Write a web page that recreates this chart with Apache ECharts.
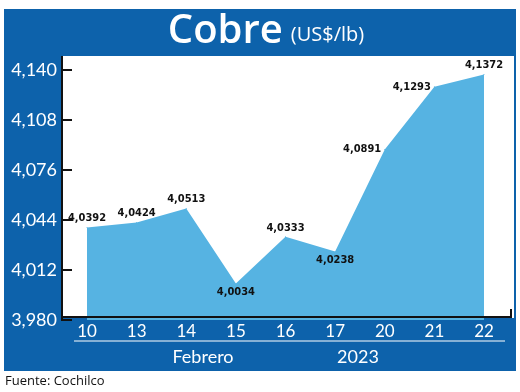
<!DOCTYPE html>
<html><head><meta charset="utf-8">
<script src="https://cdn.jsdelivr.net/npm/echarts@6/dist/echarts.min.js"></script>
<style>html,body{margin:0;padding:0;background:#fff}#c{width:520px;height:392px}</style>
</head><body><div id="c"></div>
<script>
const categories = ['10','13','14','15','16','17','20','21','22'];
const values = [4.0392, 4.0424, 4.0513, 4.0034, 4.0333, 4.0238, 4.0891, 4.1293, 4.1372];
const labelPositions = ['top','top','top','bottom','top','bottom','left','left','top'];
const yBase = 3.980, yTop = 4.140, yStep = 0.032;
const monthLabel = 'Febrero', yearLabel = '2023';
const titleMain = 'Cobre', titleUnit = '(US$/lb)', sourceText = 'Fuente: Cochilco';

const BLUE = '#0d62ab', FILL = '#56b3e2';
const NARROW = '"DejaVu Sans Condensed","Liberation Sans Narrow",sans-serif';
const scale = 1000;
const seriesData = values.map((v, i) => ({
  value: Math.round((v - yBase) * scale * 10) / 10,
  label: { position: labelPositions[i], distance: 3 }
}));

const chart = echarts.init(document.getElementById('c'), null, {renderer: 'canvas'});
chart.setOption({
  animation: false,
  grid: { left: 87, right: 36, top: 70, bottom: 72 },
  xAxis: {
    type: 'category', data: categories, boundaryGap: false,
    axisLine: { show: false }, axisTick: { show: false },
    axisLabel: { color: '#fff', fontSize: 17, fontFamily: 'Lato, "Open Sans", sans-serif', margin: 3 },
    z: 10
  },
  yAxis: {
    type: 'value', min: 0, max: Math.round((yTop - yBase) * scale), interval: Math.round(yStep * scale),
    offset: 25,
    axisLine: { show: false },
    axisTick: { show: true, inside: true, length: 10, lineStyle: { color: '#111', width: 2 } },
    splitLine: { show: false },
    axisLabel: {
      color: '#fff', fontSize: 18, fontFamily: 'Lato, "Open Sans", sans-serif', margin: 5,
      formatter: v => (yBase + v / scale).toFixed(3).replace('.', ',')
    }
  },
  series: [{
    type: 'line', data: seriesData, symbol: 'circle', symbolSize: 1, showSymbol: true,
    itemStyle: { color: FILL },
    lineStyle: { width: 0 }, areaStyle: { color: FILL, opacity: 1 },
    label: {
      show: true, color: '#111', fontSize: 11, fontWeight: 'bold', fontFamily: NARROW,
      formatter: p => values[p.dataIndex].toFixed(4).replace('.', ',')
    },
    z: 3
  }],
  graphic: [
    { type: 'rect', z: -10, shape: { x: 4, y: 9, width: 512, height: 362 }, style: { fill: BLUE } },
    { type: 'rect', z: -9, shape: { x: 62, y: 56, width: 452, height: 262 }, style: { fill: '#fff' } },
    { type: 'line', z: 100, shape: { x1: 62, y1: 56, x2: 62, y2: 321 }, style: { stroke: '#111', lineWidth: 2 } },
    { type: 'line', z: 100, shape: { x1: 62, y1: 317, x2: 511, y2: 317 }, style: { stroke: '#111', lineWidth: 2 } },
    { type: 'line', z: 100, shape: { x1: 511, y1: 309, x2: 511, y2: 318 }, style: { stroke: '#111', lineWidth: 2 } },
    { type: 'line', z: 100, shape: { x1: 74, y1: 341, x2: 505, y2: 341 }, style: { stroke: '#fff', lineWidth: 1 } },
    { type: 'text', z: 100, x: 203, y: 357, style: { text: monthLabel, fill: '#fff', font: '18px Lato, "Open Sans", sans-serif', textAlign: 'center', textVerticalAlign: 'middle' } },
    { type: 'text', z: 100, x: 358, y: 357, style: { text: yearLabel, fill: '#fff', font: '18px Lato, "Open Sans", sans-serif', textAlign: 'center', textVerticalAlign: 'middle' } },
    { type: 'text', z: 100, x: 5, y: 381, style: { text: sourceText, fill: '#111', font: '13px "Open Sans", sans-serif', textAlign: 'left', textVerticalAlign: 'middle' } },
    { type: 'text', z: 100, x: 266, y: 32, style: {
      text: '{a|' + titleMain + '}{s| }{b|' + titleUnit + '}', textAlign: 'center', textVerticalAlign: 'middle',
      rich: {
        a: { fill: '#fff', fontSize: 40, fontWeight: 600, fontFamily: '"Open Sans", Lato, sans-serif' },
        s: { width: 8, fontSize: 20 },
        b: { fill: '#fff', fontSize: 20, fontFamily: '"Open Sans", Lato, sans-serif', padding: [6, 0, 0, 0] }
      }
    } }
  ]
});
</script></body></html>
